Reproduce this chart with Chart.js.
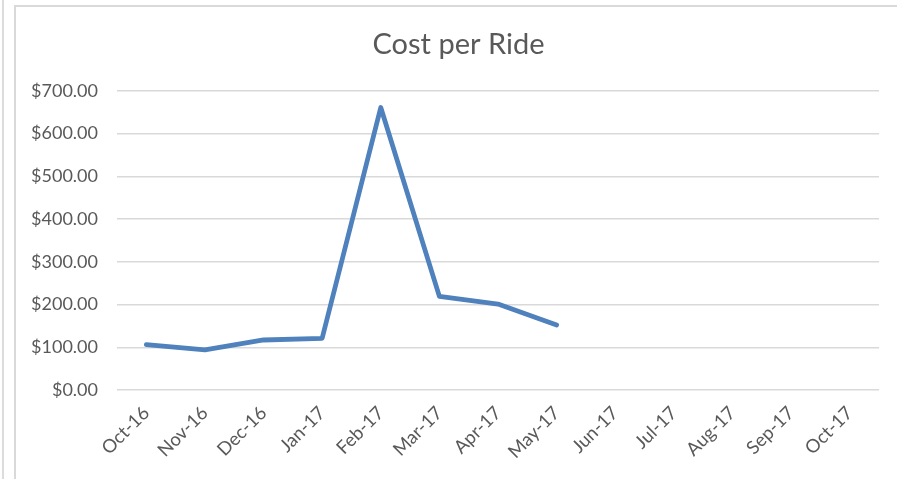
<!DOCTYPE html>
<html>
<head>
<meta charset="utf-8">
<title>Cost per Ride</title>
<script src="https://cdn.jsdelivr.net/npm/chart.js@4/dist/chart.umd.min.js"></script>
<style>
    html, body { margin: 0; padding: 0; background: #ffffff; }
    body { width: 897px; height: 479px; position: relative; overflow: hidden; }
    /* marco del área del gráfico */
    .linea-izq { position: absolute; left: 2px; top: 0; width: 2px; height: 479px; background: #dcdcdc; }
    .marco { position: absolute; left: 14px; top: 5px; right: 0; bottom: 0; border-left: 2px solid #d9d9d9; border-top: 2px solid #d9d9d9; }
    .contenedor { position: absolute; left: 16px; top: 7px; width: 881px; height: 472px; }
</style>
</head>
<body>
<div class="linea-izq"></div>
<div class="marco"></div>
<div class="contenedor"><canvas id="chart1" width="881" height="472"></canvas></div>
<script>
// Meses del periodo y costo por viaje de cada mes.
const MESES = ['Oct-16', 'Nov-16', 'Dec-16', 'Jan-17', 'Feb-17', 'Mar-17', 'Apr-17',
    'May-17', 'Jun-17', 'Jul-17', 'Aug-17', 'Sep-17', 'Oct-17'];
const COSTOS = [106, 94, 117, 121, 661, 219, 201, 152, null, null, null, null, null];
// Límites del eje vertical.
const EJE_MIN = 0;
const EJE_MAX = 700;
const EJE_PASO = 100;

const FUENTE = 'Lato, "Open Sans", sans-serif';
const GRIS = '#595959';

// Plugin para correr el título un poco a la derecha (centrado sobre todo el recuadro).
const moverTitulo = {
    id: 'moverTitulo',
    afterLayout: (chart) => {
        if (chart.titleBlock) {
            chart.titleBlock.left += 22;
        }
    }
};

// Se crea el gráfico de línea.
new Chart(document.getElementById('chart1'), {
    type: 'line',
    data: {
        labels: MESES,
        datasets: [{
            data: COSTOS,
            borderColor: '#4f81bd',
            borderWidth: 4.8,
            borderCapStyle: 'round',
            borderJoinStyle: 'round',
            pointRadius: 0,
            tension: 0,
            spanGaps: false
        }]
    },
    options: {
        responsive: false,
        animation: false,
        devicePixelRatio: 1,
        layout: { padding: { left: 0, right: 18, top: 0, bottom: 0 } },
        plugins: {
            legend: { display: false },
            tooltip: { enabled: false },
            title: {
                display: true,
                text: 'Cost per Ride',
                color: GRIS,
                font: { family: FUENTE, size: 29, weight: 'normal' },
                padding: { top: 20, bottom: 29 }
            }
        },
        scales: {
            x: {
                offset: true,
                grid: { display: false, drawTicks: false },
                border: { display: false },
                ticks: {
                    color: GRIS,
                    font: { family: FUENTE, size: 18.5 },
                    minRotation: 45,
                    maxRotation: 45,
                    autoSkip: false,
                    padding: 12
                },
                afterFit: (scale) => { scale.height = 89; }
            },
            y: {
                min: EJE_MIN,
                max: EJE_MAX,
                grid: { color: '#d9d9d9', lineWidth: 1.5, drawTicks: false },
                border: { display: false },
                ticks: {
                    stepSize: EJE_PASO,
                    color: GRIS,
                    font: { family: FUENTE, size: 18 },
                    padding: 19,
                    callback: (valor) => '$' + valor.toFixed(2)
                },
                afterFit: (scale) => { scale.width = 101; }
            }
        }
    },
    plugins: [moverTitulo]
});
</script>
</body>
</html>
